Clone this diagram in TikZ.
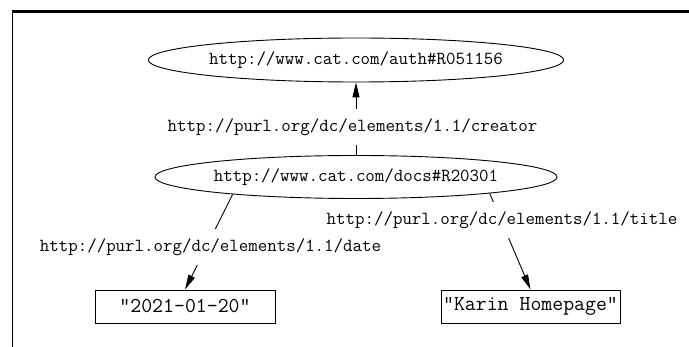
\documentclass[tikz,border=0pt]{standalone}
\usetikzlibrary{shapes.geometric,arrows.meta}
\begin{document}
\begin{tikzpicture}[x=1pt,y=-1pt,
  labelfont/.style={font=\fontsize{18.4}{20}\selectfont\ttfamily},
  resource/.style={draw,shape=ellipse,line width=0.9pt,inner sep=0pt,
    minimum width=352pt,minimum height=44pt,labelfont},
  literal/.style={draw,rectangle,line width=0.9pt,inner sep=1pt,
    minimum width=180pt,minimum height=33pt,
    font=\fontsize{21.2}{23}\selectfont\ttfamily},
  prop/.style={fill=white,inner xsep=2pt,inner ysep=10pt,labelfont},
  arc/.style={line width=0.9pt,-{Triangle[length=15pt,width=7pt]}}]
  \useasboundingbox (0,0) rectangle (689,347);
  % page frame
  \draw[line width=3.5pt] (12,11.7) -- (689,11.7);
  \draw[line width=1.2pt] (12.5,10) -- (12.5,347);

  % resources and literals
  \node[resource] (auth) at (356,60) {http://www.cat.com/auth\#R051156};
  \node[resource,minimum height=43pt] (docs) at (356,177) {http://www.cat.com/docs\#R20301};
  \node[literal] (date) at (185,306.5) {"2021-01-20"};
  \node[literal,minimum width=179pt] (home) at (530.5,306.5) {"Karin Homepage"};

  % statements
  \draw[arc] (docs) -- (auth);
  \draw[arc] (docs.188) -- (date.north);
  \draw[arc] (docs.-7) -- (home.north);

  % property labels
  \node[prop] (creator) at (352.5,127) {http://purl.org/dc/elements/1.1/creator};
  \node[prop] (datep) at (210.5,247) {http://purl.org/dc/elements/1.1/date};
  \node[prop] (titlep) at (502,220) {http://purl.org/dc/elements/1.1/title};
\end{tikzpicture}
\end{document}
